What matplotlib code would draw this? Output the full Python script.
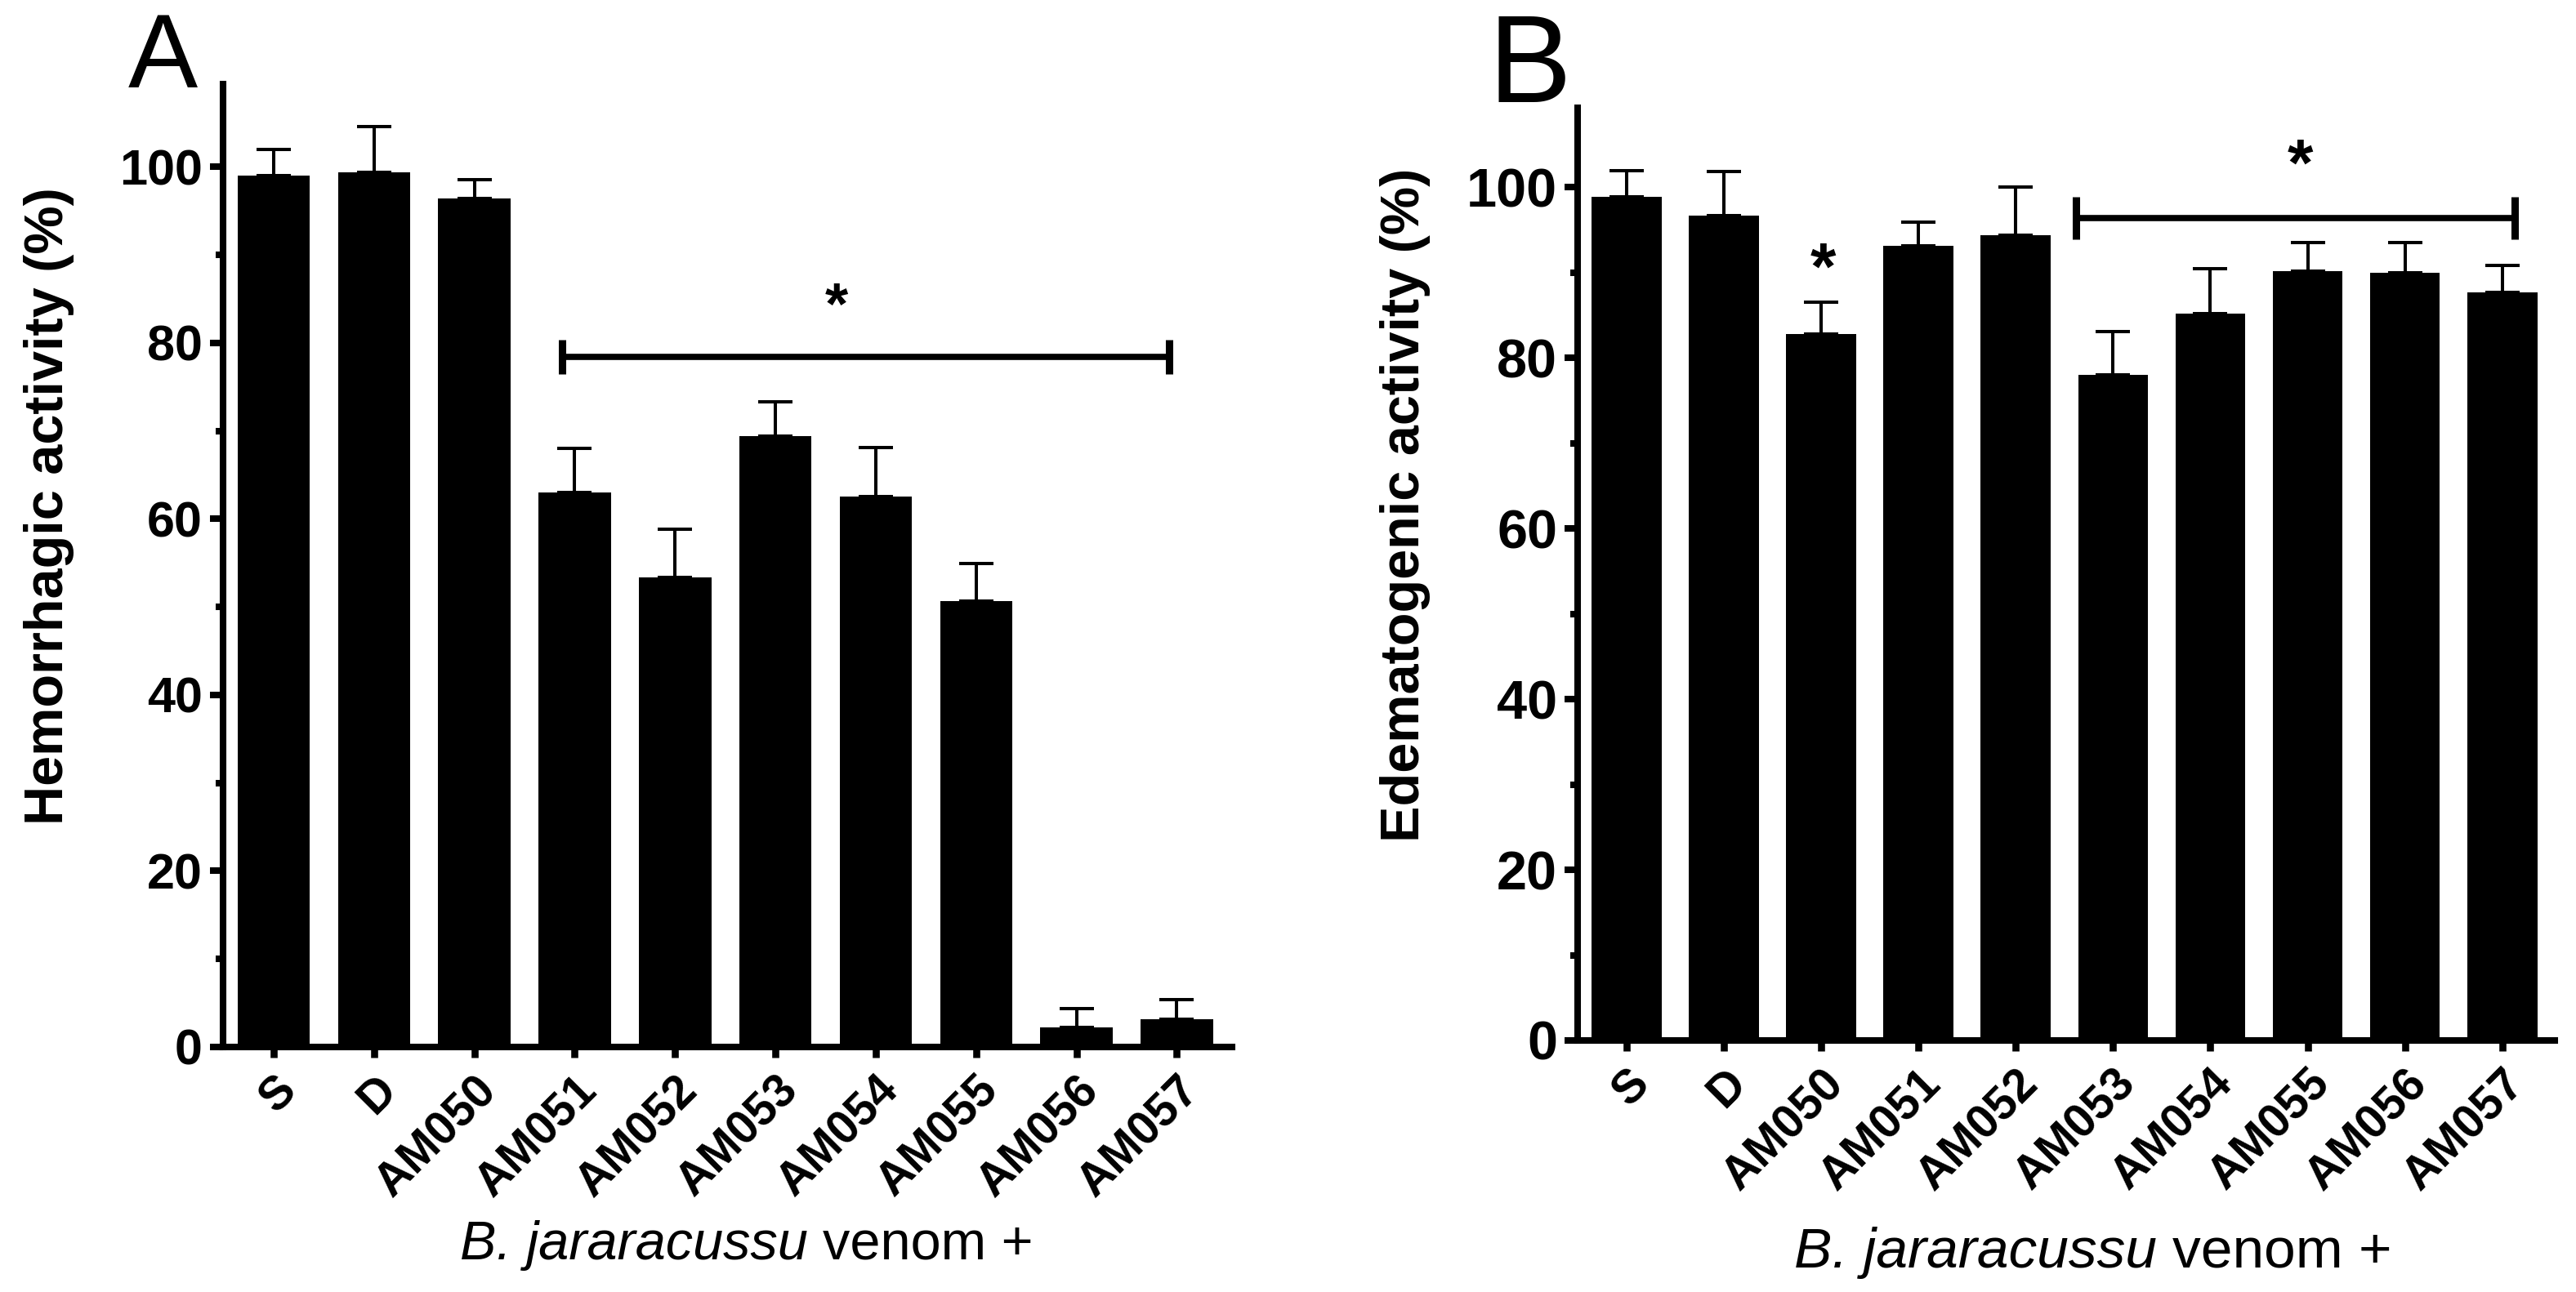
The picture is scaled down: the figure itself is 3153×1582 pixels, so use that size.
import matplotlib
matplotlib.use("Agg")
import matplotlib.pyplot as plt
from matplotlib.ticker import MultipleLocator

plt.rcParams['font.family'] = ['Liberation Sans', 'DejaVu Sans']
plt.rcParams['font.weight'] = 'bold'

# data (bar mean, top of the SEM bar)
groups = ['S', 'D', 'AM050', 'AM051', 'AM052', 'AM053', 'AM054', 'AM055', 'AM056', 'AM057']

hemorrhagic_mean = [99.0, 99.4, 96.4, 63.0, 53.4, 69.4, 62.5, 50.7, 2.2, 3.2]
hemorrhagic_sem = [3.0, 5.2, 2.1, 5.0, 5.4, 3.9, 5.6, 4.2, 2.2, 2.2]

edematogenic_mean = [98.9, 96.7, 82.8, 93.1, 94.4, 78.0, 85.2, 90.2, 90.0, 87.7]
edematogenic_sem = [3.0, 5.1, 3.7, 2.8, 5.6, 5.1, 5.2, 3.3, 3.5, 3.1]

W, H = 3153, 1582


def draw_panel(ax, means, sems, ytick_size):
    x = list(range(len(groups)))
    ax.bar(x, means, width=0.72, color='black', edgecolor='none')
    ax.errorbar(x, means, yerr=[[0] * len(sems), sems], fmt='none', ecolor='black',
                elinewidth=2.9, capsize=15, capthick=2.9)
    ax.set_ylim(0, 109.4)
    ax.set_xlim(-0.505, 9.55)
    ax.yaxis.set_major_locator(MultipleLocator(20))
    ax.yaxis.set_minor_locator(MultipleLocator(10))
    ax.set_xticks(x)
    ax.set_xticklabels(groups, rotation=45, ha='right', rotation_mode='anchor')
    for side in ['top', 'right']:
        ax.spines[side].set_visible(False)
    for side in ['left', 'bottom']:
        ax.spines[side].set_linewidth(5.8)
    ax.tick_params(axis='y', which='major', length=11.5, width=5.8, pad=6.5, labelsize=ytick_size)
    ax.tick_params(axis='y', which='minor', length=6.5, width=5.8)
    ax.tick_params(axis='x', length=9.4, width=6.2, pad=9, labelsize=41)


def bracket(ax, x0, x1, y, h):
    ax.plot([x0, x1], [y, y], color='black', lw=5.5, solid_capstyle='butt')
    ax.plot([x0, x0], [y - h, y + h], color='black', lw=6.5, solid_capstyle='butt')
    ax.plot([x1, x1], [y - h, y + h], color='black', lw=6.5, solid_capstyle='butt')


def species_label(fig, xc, yb, size):
    r = fig.canvas.get_renderer()
    t1 = fig.text(0, yb, 'B. jararacussu', style='italic', weight='normal', fontsize=size)
    t2 = fig.text(0, yb, 'venom +', weight='normal', fontsize=size)
    w1 = t1.get_window_extent(r).width
    w2 = t2.get_window_extent(r).width
    space = 0.278 * size * fig.dpi / 72
    x0 = xc - (w1 + space + w2) / 2
    t1.set_x(x0 / W)
    t2.set_x((x0 + w1 + space) / W)


fig = plt.figure(figsize=(W / 100, H / 100), dpi=100)
axA = fig.add_axes([273 / W, 1 - 1282 / H, (1508 - 273) / W, (1282 - 103) / H])
axB = fig.add_axes([1931 / W, 1 - 1274 / H, (3127 - 1931) / W, (1274 - 132) / H])

draw_panel(axA, hemorrhagic_mean, hemorrhagic_sem, 44)
draw_panel(axB, edematogenic_mean, edematogenic_sem, 48)
axB.set_xlim(-0.504, 9.54)
axB.set_ylim(0, 109.3)

bracket(axA, 2.87, 8.92, 78.4, 1.95)
axA.text(5.61, 84.0, '*', ha='center', va='center', fontsize=52)

bracket(axB, 4.62, 9.13, 96.4, 2.5)
axB.text(6.92, 102.3, '*', ha='center', va='center', fontsize=58)
axB.text(2.02, 90.1, '*', ha='center', va='center', fontsize=58)

fig.text(60 / W, 1 - 620 / H, 'Hemorrhagic activity (%)', rotation=90,
         ha='center', va='center', fontsize=48)
fig.text(1720 / W, 1 - 618 / H, 'Edematogenic activity (%)', rotation=90,
         ha='center', va='center', fontsize=48)

fig.text(157 / W, 1 - 107 / H, 'A', weight='normal', fontsize=92, ha='left', va='baseline')
fig.text(1822 / W, 1 - 125 / H, 'B', weight='normal', fontsize=110, ha='left', va='baseline')

species_label(fig, 914, 1 - 1542 / H, 48)
species_label(fig, 2562, 1 - 1552 / H, 50)

plt.savefig('out.png', dpi=100)
